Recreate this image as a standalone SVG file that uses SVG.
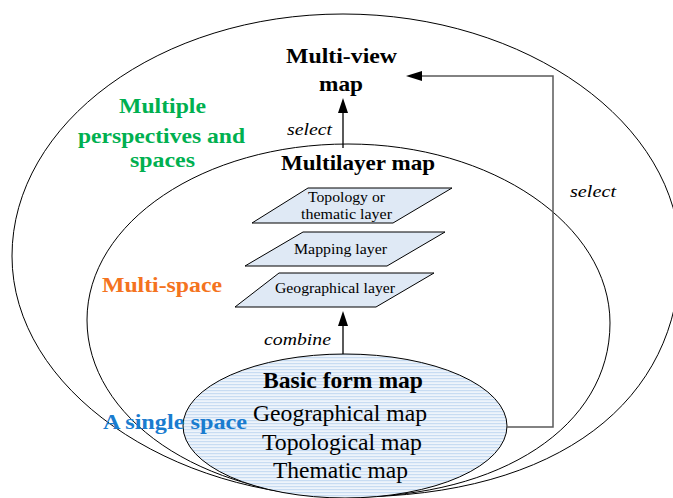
<svg xmlns="http://www.w3.org/2000/svg" width="673" height="498" viewBox="0 0 673 498">
<style>
.ring{fill:none;stroke:#000;stroke-width:1}
.layer{fill:#dfe9f5;stroke:#000;stroke-width:1}
.t{font-family:"Liberation Serif","Times New Roman",serif;fill:#000}
.b{font-weight:bold}
.i{font-style:italic}
.conn{fill:none;stroke:#5a5a5a;stroke-width:1.5}
.arr{fill:none;stroke:#000;stroke-width:1.3}
.head{fill:#000}
</style>
<defs>
<pattern id="stripes" width="4" height="3" patternUnits="userSpaceOnUse">
<rect width="4" height="3" fill="#eef4fb"/>
<rect width="4" height="1.2" fill="#c8dcf2"/>
</pattern>
</defs>
<rect width="673" height="498" fill="#fff"/>

<g id="outer-space">
<path class="ring" d="M343,14 C526,14 680,123 680,256 C680,400 560,497 350,497 C170,497 12,389 12,256 C12,123 160,14 343,14 Z"/>
</g>
<g id="multi-space">
<path class="ring" d="M348,144 C492,144 610,225 610,323 C610,427 500,497 350,497 C200,497 87,417 87,320 C87,222 204,144 348,144 Z"/>
</g>
<g id="basic-form-map">
<ellipse cx="345" cy="426" rx="162" ry="72" fill="url(#stripes)" stroke="#000" stroke-width="1"/>
<text class="t b" x="263" y="388" font-size="23" textLength="160" lengthAdjust="spacingAndGlyphs">Basic form map</text>
<text class="t" x="253" y="421" font-size="23" textLength="174" lengthAdjust="spacingAndGlyphs">Geographical map</text>
<text class="t" x="262" y="450" font-size="23" textLength="160" lengthAdjust="spacingAndGlyphs">Topological map</text>
<text class="t" x="273" y="478" font-size="23" textLength="135" lengthAdjust="spacingAndGlyphs">Thematic map</text>
</g>

<g id="layer-topology">
<polygon class="layer" points="308,188 452,188 393,223 252,223"/>
<text class="t" x="308" y="202" font-size="14" textLength="77" lengthAdjust="spacingAndGlyphs">Topology or</text>
<text class="t" x="301" y="219" font-size="14" textLength="91" lengthAdjust="spacingAndGlyphs">thematic layer</text>
</g>
<g id="layer-mapping">
<polygon class="layer" points="303,232 445,232 387,266 245,266"/>
<text class="t" x="294" y="254" font-size="14" textLength="93" lengthAdjust="spacingAndGlyphs">Mapping layer</text>
</g>
<g id="layer-geographical">
<polygon class="layer" points="279,273 434,273 376,307 235,307"/>
<text class="t" x="275" y="293" font-size="14" textLength="120" lengthAdjust="spacingAndGlyphs">Geographical layer</text>
</g>

<g id="multilayer-map">
<text class="t b" x="281" y="170" font-size="21" textLength="154" lengthAdjust="spacingAndGlyphs">Multilayer map</text>
</g>
<g id="multi-view-map">
<text class="t b" x="286" y="63" font-size="21" textLength="111" lengthAdjust="spacingAndGlyphs">Multi-view</text>
<text class="t b" x="319" y="91" font-size="21" textLength="44" lengthAdjust="spacingAndGlyphs">map</text>
</g>

<g id="connectors">
<line class="arr" x1="343" y1="148" x2="343" y2="111"/>
<polygon class="head" points="343,98 348,113 338,113"/>
<line class="arr" x1="343" y1="354" x2="343" y2="324"/>
<polygon class="head" points="343,311 348,326 338,326"/>
<polyline class="conn" points="507,427 553,427 553,76 420,76"/>
<polygon class="head" points="406,76 422,71 422,81"/>
<text class="t i" x="287" y="135" font-size="17" textLength="45" lengthAdjust="spacingAndGlyphs">select</text>
<text class="t i" x="264" y="345" font-size="17" textLength="67" lengthAdjust="spacingAndGlyphs">combine</text>
<text class="t i" x="570" y="197" font-size="17" textLength="46" lengthAdjust="spacingAndGlyphs">select</text>
</g>

<g id="space-labels">
<text class="t b" x="119" y="113" font-size="22" style="fill:#00b050" textLength="87" lengthAdjust="spacingAndGlyphs">Multiple</text>
<text class="t b" x="78" y="143" font-size="22" style="fill:#00b050" textLength="167" lengthAdjust="spacingAndGlyphs">perspectives and</text>
<text class="t b" x="130" y="167" font-size="22" style="fill:#00b050" textLength="65" lengthAdjust="spacingAndGlyphs">spaces</text>
<text class="t b" x="102" y="292" font-size="21" style="fill:#f47320" textLength="120" lengthAdjust="spacingAndGlyphs">Multi-space</text>
<text class="t b" x="103" y="429" font-size="22" style="fill:#1a7ccf" textLength="144" lengthAdjust="spacingAndGlyphs">A single space</text>
</g>
</svg>
